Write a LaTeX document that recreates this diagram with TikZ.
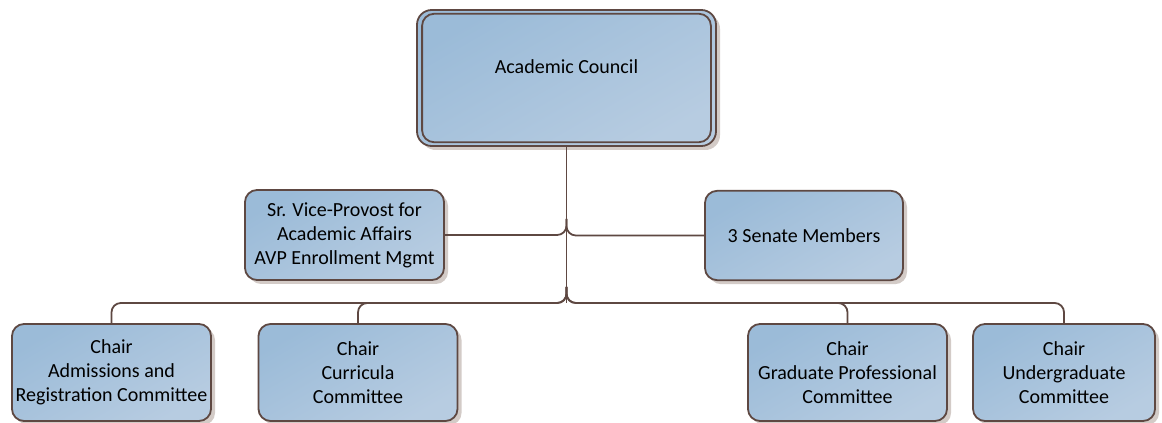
\documentclass[tikz,border=0pt]{standalone}
\usepackage{fontspec}
\setmainfont{Carlito}
\usetikzlibrary{shadows,calc}
\definecolor{edgec}{HTML}{5E4842}
\definecolor{fillA}{HTML}{9BBBD8}
\definecolor{fillB}{HTML}{B7CCE1}
\definecolor{shadowc}{HTML}{D3CBC7}
\begin{document}
\begin{tikzpicture}[x=0.75pt,y=-0.75pt,
  box/.style={draw=edgec, line width=1.35pt, rounded corners=9pt,
    top color=fillA, bottom color=fillB, shading angle=30,
    align=center, inner sep=1pt, font=\fontsize{15pt}{18pt}\selectfont,
    drop shadow={shadow xshift=3pt, shadow yshift=-3pt, fill=shadowc, opacity=1}},
  conn/.style={draw=edgec, line width=1.35pt},
  elbow/.style={conn, rounded corners=7pt}]
\useasboundingbox (0,0) rectangle (1162,423);
\clip (0,0) rectangle (1162,423);
% top
\node[box, rounded corners=11pt, minimum width=224.25pt, minimum height=102pt,
  text height=10pt, text depth=17pt] (council) at (566.5,78) {Academic Council};
\draw[edgec, line width=1.35pt, rounded corners=9pt]
  ($(council.south west)+(4.5pt,3.5pt)$) rectangle ($(council.north east)+(-4.5pt,-3.5pt)$);
% middle
\node[box, minimum width=149.25pt, minimum height=67.5pt] (sr) at (344.5,235)
  {Sr. Vice-Provost for\\Academic Affairs\\AVP Enrollment Mgmt};
\node[box, minimum width=148.5pt, minimum height=67pt] (sen) at (804,235.5)
  {3 Senate Members};
% bottom
\node[box, minimum width=149.25pt, minimum height=72.75pt] (b1) at (111.5,372.5)
  {Chair\\Admissions and\\Registration Committee};
\node[box, minimum width=149.25pt, minimum height=72.75pt] (b2) at (358,372.5)
  {Chair\\Curricula\\Committee};
\node[box, minimum width=149.25pt, minimum height=72.75pt] (b3) at (847.5,372.5)
  {Chair\\Graduate Professional\\Committee};
\node[box, minimum width=136.5pt, minimum height=72.75pt] (b4) at (1064,372.5)
  {Chair\\Undergraduate\\Committee};
% connectors
\coordinate (mid) at (566.5,235);
\coordinate (bus) at (566.5,303);
\draw[conn] (council.south) -- (bus);
\draw[elbow] ($(mid)+(0,-16)$) |- (sr.east);
\draw[elbow] ($(mid)+(0,-16)$) |- (sen.west);
\draw[elbow] ($(bus)+(0,-16)$) |- (b1.north |- bus) -- (b1.north);
\draw[elbow] ($(bus)+(0,-16)$) |- (b2.north |- bus) -- (b2.north);
\draw[elbow] ($(bus)+(0,-16)$) |- (b3.north |- bus) -- (b3.north);
\draw[elbow] ($(bus)+(0,-16)$) |- (b4.north |- bus) -- (b4.north);
\end{tikzpicture}
\end{document}
